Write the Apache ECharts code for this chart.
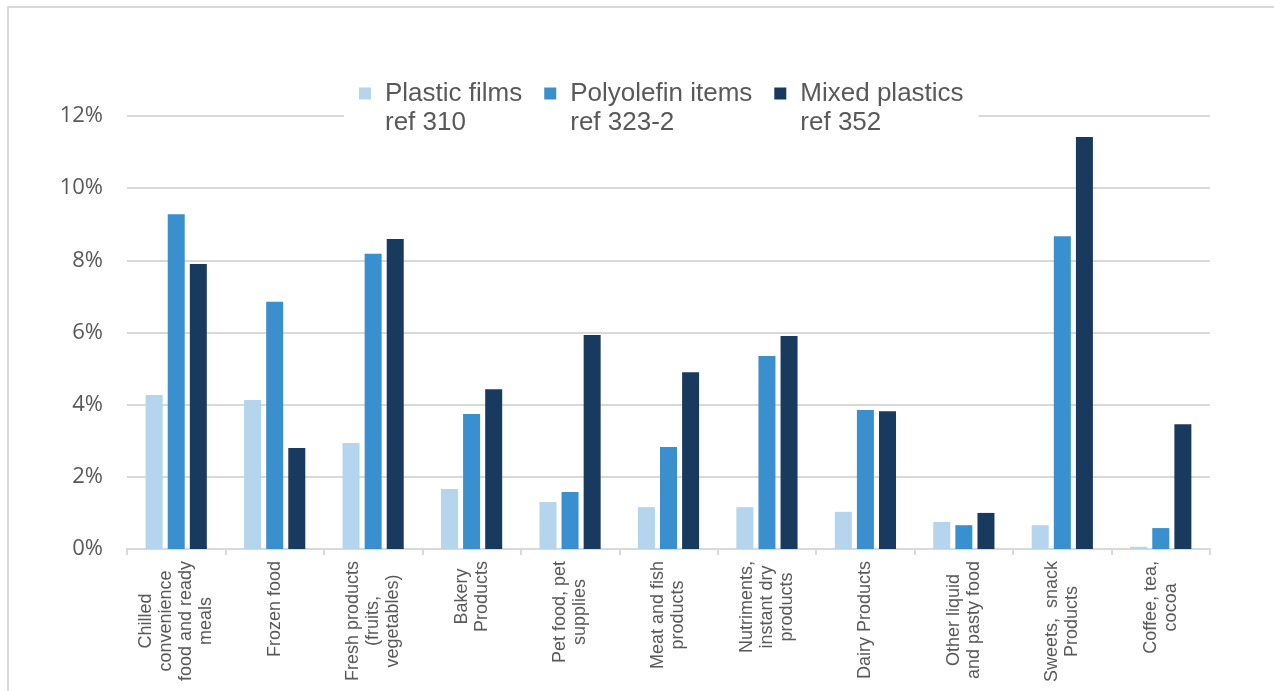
<!DOCTYPE html>
<html>
<head>
<meta charset="utf-8">
<script src="https://cdn.jsdelivr.net/npm/echarts@6/dist/echarts.min.js"></script>
<style>
  html, body { margin: 0; padding: 0; background: #ffffff; }
  #chart { width: 1274px; height: 691px; }
</style>
</head>
<body>
<div id="chart"></div>
<script>
// Share of each packaging stream by product group (%)
const categories = [
  'Chilled\nconvenience\nfood and ready\nmeals',
  'Frozen food',
  'Fresh products\n(fruits,\nvegetables)',
  'Bakery\nProducts',
  'Pet food, pet\nsupplies',
  'Meat and fish\nproducts',
  'Nutriments,\ninstant dry\nproducts',
  'Dairy Products',
  'Other liquid\nand pasty food',
  'Sweets,  snack\nProducts',
  'Coffee, tea,\ncocoa'
];

const seriesNames = [
  'Plastic films\nref 310',
  'Polyolefin items\nref 323-2',
  'Mixed plastics\nref 352'
];

const plasticFilms   = [4.27, 4.13, 2.94, 1.66, 1.30, 1.16, 1.16, 1.03, 0.75, 0.66, 0.06];
const polyolefin     = [9.28, 6.85, 8.18, 3.74, 1.58, 2.83, 5.35, 3.85, 0.66, 8.67, 0.58];
const mixedPlastics  = [7.90, 2.80, 8.59, 4.43, 5.93, 4.90, 5.90, 3.82, 1.00, 11.42, 3.46];

const yTicks = { min: 0, max: 12, step: 2 };

const colors = ['#b4d5ed', '#3a8fcf', '#183a5f'];
const textGrey = '#595959';
const lineGrey = '#d9d9d9';

const chart = echarts.init(document.getElementById('chart'), null, { renderer: 'canvas' });

const barSeries = [plasticFilms, polyolefin, mixedPlastics].map((values, i) => ({
  name: seriesNames[i],
  type: 'bar',
  data: values,
  barWidth: 17,
  barGap: '30%',
  itemStyle: { color: colors[i] },
  emphasis: { disabled: true }
}));

chart.setOption({
  animation: false,
  color: colors,
  graphic: [{
    type: 'rect',
    shape: { x: 8, y: 7, width: 1300, height: 720 },
    style: { fill: 'none', stroke: lineGrey, lineWidth: 2 },
    silent: true,
    z: 0
  }],
  legend: {
    left: 344,
    top: 45,
    padding: [5, 15, 5, 15],
    backgroundColor: '#ffffff',
    itemWidth: 12,
    itemHeight: 12,
    itemGap: 22,
    icon: 'rect',
    selectedMode: false,
    // a leading blank line keeps the swatch level with the first text line
    formatter: name => '\n' + name,
    textStyle: {
      fontFamily: 'Liberation Sans, Arial, sans-serif',
      fontSize: 26,
      color: textGrey,
      lineHeight: 29,
      padding: [0, 0, 0, 9]
    },
    data: seriesNames
  },
  grid: {
    left: 127,
    right: 64,
    top: 116,
    bottom: 142,
    containLabel: false
  },
  xAxis: {
    type: 'category',
    data: categories,
    boundaryGap: true,
    axisLine: { lineStyle: { color: lineGrey, width: 2 } },
    axisTick: { show: true, length: 6, lineStyle: { color: lineGrey, width: 2 } },
    axisLabel: {
      rotate: 90,
      interval: 0,
      margin: 12,
      color: textGrey,
      fontFamily: 'Liberation Sans, Arial, sans-serif',
      fontSize: 18,
      lineHeight: 20,
      formatter: v => v.split('\n').map(s => '{c|' + s + '}').join('\n'),
      rich: {
        c: {
          align: 'center',
          color: textGrey,
          fontFamily: 'Liberation Sans, Arial, sans-serif',
          fontSize: 18,
          lineHeight: 20
        }
      }
    }
  },
  yAxis: {
    type: 'value',
    min: yTicks.min,
    max: yTicks.max,
    interval: yTicks.step,
    axisLine: { show: false },
    axisTick: { show: false },
    splitLine: { lineStyle: { color: lineGrey, width: 2 } },
    axisLabel: {
      margin: 24,
      color: textGrey,
      fontFamily: 'Open Sans, Noto Sans, sans-serif',
      fontSize: 22,
      formatter: v => v + '%'
    }
  },
  series: barSeries
});
</script>
</body>
</html>
